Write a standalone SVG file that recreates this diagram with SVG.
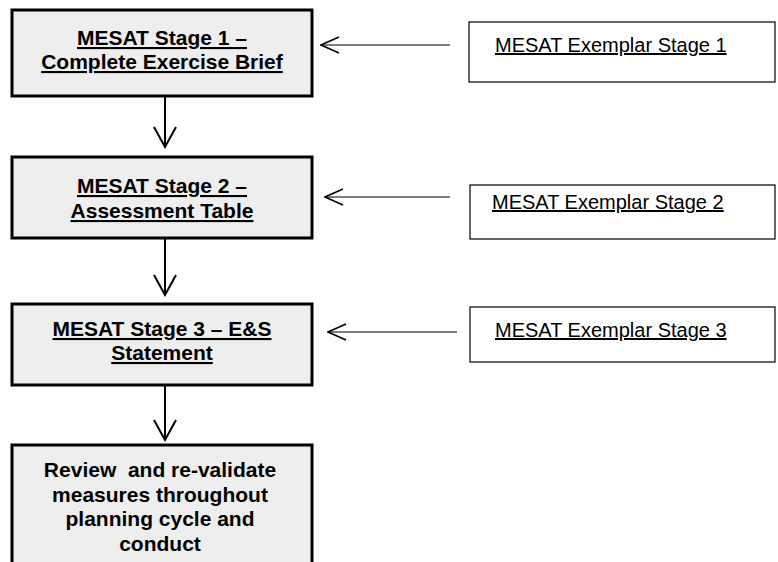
<svg xmlns="http://www.w3.org/2000/svg" width="778" height="562" viewBox="0 0 778 562">
<style>
.stage{fill:#eeeeee;stroke:#000;stroke-width:3}
.ex{fill:#fff;stroke:#000;stroke-width:1.2}
.t{font-family:"Liberation Sans",Arial,sans-serif;font-weight:bold;font-size:21px;text-anchor:middle;text-decoration:underline;fill:#000}
.t4{font-family:"Liberation Sans",Arial,sans-serif;font-weight:bold;font-size:21px;text-anchor:middle;fill:#000}
.e{font-family:"Liberation Sans",Arial,sans-serif;font-size:20px;text-decoration:underline;fill:#000}
.c{stroke:#000;fill:none}
</style>
<defs>
<marker id="ah" viewBox="0 0 20 20" refX="19" refY="10" markerWidth="20" markerHeight="20" markerUnits="userSpaceOnUse" orient="auto">
<path d="M1,2 L19,10 L1,18" fill="none" stroke="#000" stroke-width="1.5"/>
</marker>
<marker id="ah2" viewBox="0 0 24 24" refX="22" refY="12" markerWidth="24" markerHeight="24" markerUnits="userSpaceOnUse" orient="auto">
<path d="M2,1 L22,12 L2,23" fill="none" stroke="#000" stroke-width="2"/>
</marker>
</defs>
<g id="stage1"><rect class="stage" x="12" y="10" width="300" height="86"/>
<text class="t" x="162" y="45">MESAT Stage 1 –</text>
<text class="t" x="162" y="69">Complete Exercise Brief</text></g>
<g id="stage2"><rect class="stage" x="12" y="157" width="300" height="81"/>
<text class="t" x="162" y="193">MESAT Stage 2 –</text>
<text class="t" x="162" y="218">Assessment Table</text></g>
<g id="stage3"><rect class="stage" x="12" y="304" width="300" height="81"/>
<text class="t" x="162" y="336">MESAT Stage 3 – E&amp;S</text>
<text class="t" x="162" y="360">Statement</text></g>
<g id="review"><rect class="stage" x="12" y="445" width="300" height="130"/>
<text class="t4" x="160" y="477" xml:space="preserve">Review  and re-validate</text>
<text class="t4" x="160" y="502">measures throughout</text>
<text class="t4" x="160" y="526">planning cycle and</text>
<text class="t4" x="160" y="551">conduct</text></g>
<g id="ex1"><rect class="ex" x="469" y="22" width="306" height="60"/>
<text class="e" x="495" y="52">MESAT Exemplar Stage 1</text></g>
<g id="ex2"><rect class="ex" x="470" y="185" width="305" height="54"/>
<text class="e" x="492" y="209">MESAT Exemplar Stage 2</text></g>
<g id="ex3"><rect class="ex" x="470" y="307" width="305" height="55"/>
<text class="e" x="495" y="337">MESAT Exemplar Stage 3</text></g>
<g id="connectors">
<line class="c" x1="165" y1="97" x2="165" y2="147" stroke-width="2" marker-end="url(#ah2)"/>
<line class="c" x1="165" y1="239" x2="165" y2="295" stroke-width="2" marker-end="url(#ah2)"/>
<line class="c" x1="165" y1="386" x2="165" y2="440" stroke-width="2" marker-end="url(#ah2)"/>
<line class="c" x1="450" y1="45" x2="321" y2="45" stroke-width="1.2" marker-end="url(#ah)"/>
<line class="c" x1="450" y1="197" x2="325" y2="197" stroke-width="1.2" marker-end="url(#ah)"/>
<line class="c" x1="457" y1="332" x2="328" y2="332" stroke-width="1.2" marker-end="url(#ah)"/>
</g>
</svg>
